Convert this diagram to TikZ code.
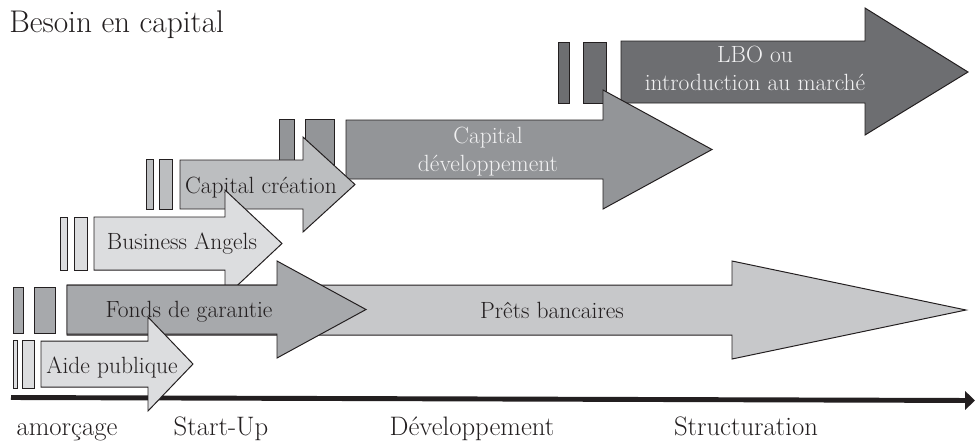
\documentclass[tikz,border=0pt]{standalone}
\usepackage{tikz}
\usetikzlibrary{arrows.meta}

\definecolor{ink}{HTML}{231F20}
\definecolor{aideGrey}{HTML}{DCDDDF}
\definecolor{fondsGrey}{HTML}{A7A9AC}
\definecolor{pretsGrey}{HTML}{C7C8CA}
\definecolor{angelsGrey}{HTML}{DCDDDF}
\definecolor{creationGrey}{HTML}{BCBEC0}
\definecolor{devGrey}{HTML}{939598}
\definecolor{lboGrey}{HTML}{6D6E71}
\definecolor{paleText}{HTML}{F1F1F2}

\begin{document}
\begin{tikzpicture}[x=0.025cm, y=-0.025cm,
        outline/.style={draw=ink, line width=0.7pt, line join=miter},
        tag/.style={font=\fontsize{16.7}{20}\selectfont, text=ink, inner sep=0pt, align=center},
        phase/.style={font=\fontsize{19}{22}\selectfont, text=ink, inner sep=0pt, anchor=base},
        axis/.style={draw=ink, line width=3.5pt, -{Triangle[length=7pt,width=13pt]}}]
        \useasboundingbox (0,0) rectangle (975,443);

        % Title
        \node[font=\fontsize{22.3}{26}\selectfont, text=ink, inner sep=0pt, anchor=base west]
            (besoin) at (9,32) {Besoin en capital};

        % Time axis with the growth phases
        \coordinate (t0) at (11,397.5);
        \coordinate (t1) at (975,400.5);
        \draw[axis] (t0) -- (t1);
        \node[phase] (amorcage) at (67,435) {amorçage};
        \node[phase] (startup) at (221,435) {Start-Up};
        \node[phase] (developpement) at (472,435) {Développement};
        \node[phase] (structuration) at (746,435) {Structuration};

        % LBO ou introduction au marche
        \begin{scope}
            \foreach \a/\b in {558/569,583/606} {
                \draw[outline, fill=lboGrey] (\a,42) rectangle (\b,103);
            }
            \draw[outline, fill=lboGrey] (621,41) -- (865,41) -- (865,8) -- (968,72)
                -- (865,135) -- (865,103) -- (621,103) -- cycle;
            \node[tag, text=paleText] (lbo) at (755,68) {LBO ou\\introduction au marché};
        \end{scope}

        % Capital developpement
        \begin{scope}
            \foreach \a/\b in {279/294,305/334} {
                \draw[outline, fill=devGrey] (\a,119) rectangle (\b,179);
            }
            \draw[outline, fill=devGrey] (346,120) -- (603,120) -- (603,90) -- (712,149.5)
                -- (603,209) -- (603,179) -- (346,179) -- cycle;
            \node[tag, text=paleText] (capdev) at (488,151.5) {Capital\\développement};
        \end{scope}

        % Capital creation
        \begin{scope}
            \foreach \a/\b in {146/153,159/172} {
                \draw[outline, fill=creationGrey] (\a,159) rectangle (\b,209);
            }
            \draw[outline, fill=creationGrey] (180,160) -- (303,160) -- (303,137) -- (355,184.5)
                -- (303,232) -- (303,209) -- (180,209) -- cycle;
            \node[tag, anchor=base] (creation) at (261,193) {Capital création};
        \end{scope}

        % Business Angels
        \begin{scope}
            \foreach \a/\b in {60/67,74/87} {
                \draw[outline, fill=angelsGrey] (\a,217) rectangle (\b,270);
            }
            \draw[outline, fill=angelsGrey] (94,217) -- (225,217) -- (225,190) -- (282,243.5)
                -- (225,297) -- (225,270) -- (94,270) -- cycle;
            \node[tag, anchor=base] (angels) at (182,249) {Business Angels};
        \end{scope}

        % Prets bancaires (runs behind the guarantee funds)
        \begin{scope}
            \draw[outline, fill=pretsGrey] (67,285) -- (732,285) -- (732,261) -- (966,310)
                -- (732,359) -- (732,335) -- (67,335) -- cycle;
            \node[tag, anchor=base] (prets) at (552,318) {Prêts bancaires};
        \end{scope}

        % Fonds de garantie
        \begin{scope}
            \foreach \a/\b in {13/23,34/55} {
                \draw[outline, fill=fondsGrey] (\a,287) rectangle (\b,333);
            }
            \draw[outline, fill=fondsGrey] (67,285) -- (277,285) -- (277,261) -- (366,309.5)
                -- (277,358) -- (277,334) -- (67,334) -- cycle;
            \node[tag, anchor=base] (fonds) at (189,317) {Fonds de garantie};
        \end{scope}

        % Aide publique
        \begin{scope}
            \foreach \a/\b in {13/17,22/34} {
                \draw[outline, fill=aideGrey] (\a,340) rectangle (\b,388);
            }
            \draw[outline, fill=aideGrey] (41,341) -- (148,341) -- (148,317) -- (193,364)
                -- (148,411) -- (148,387) -- (41,387) -- cycle;
            \node[tag, anchor=base] (aide) at (112,373) {Aide publique};
        \end{scope}

    \end{tikzpicture}
\end{document}
